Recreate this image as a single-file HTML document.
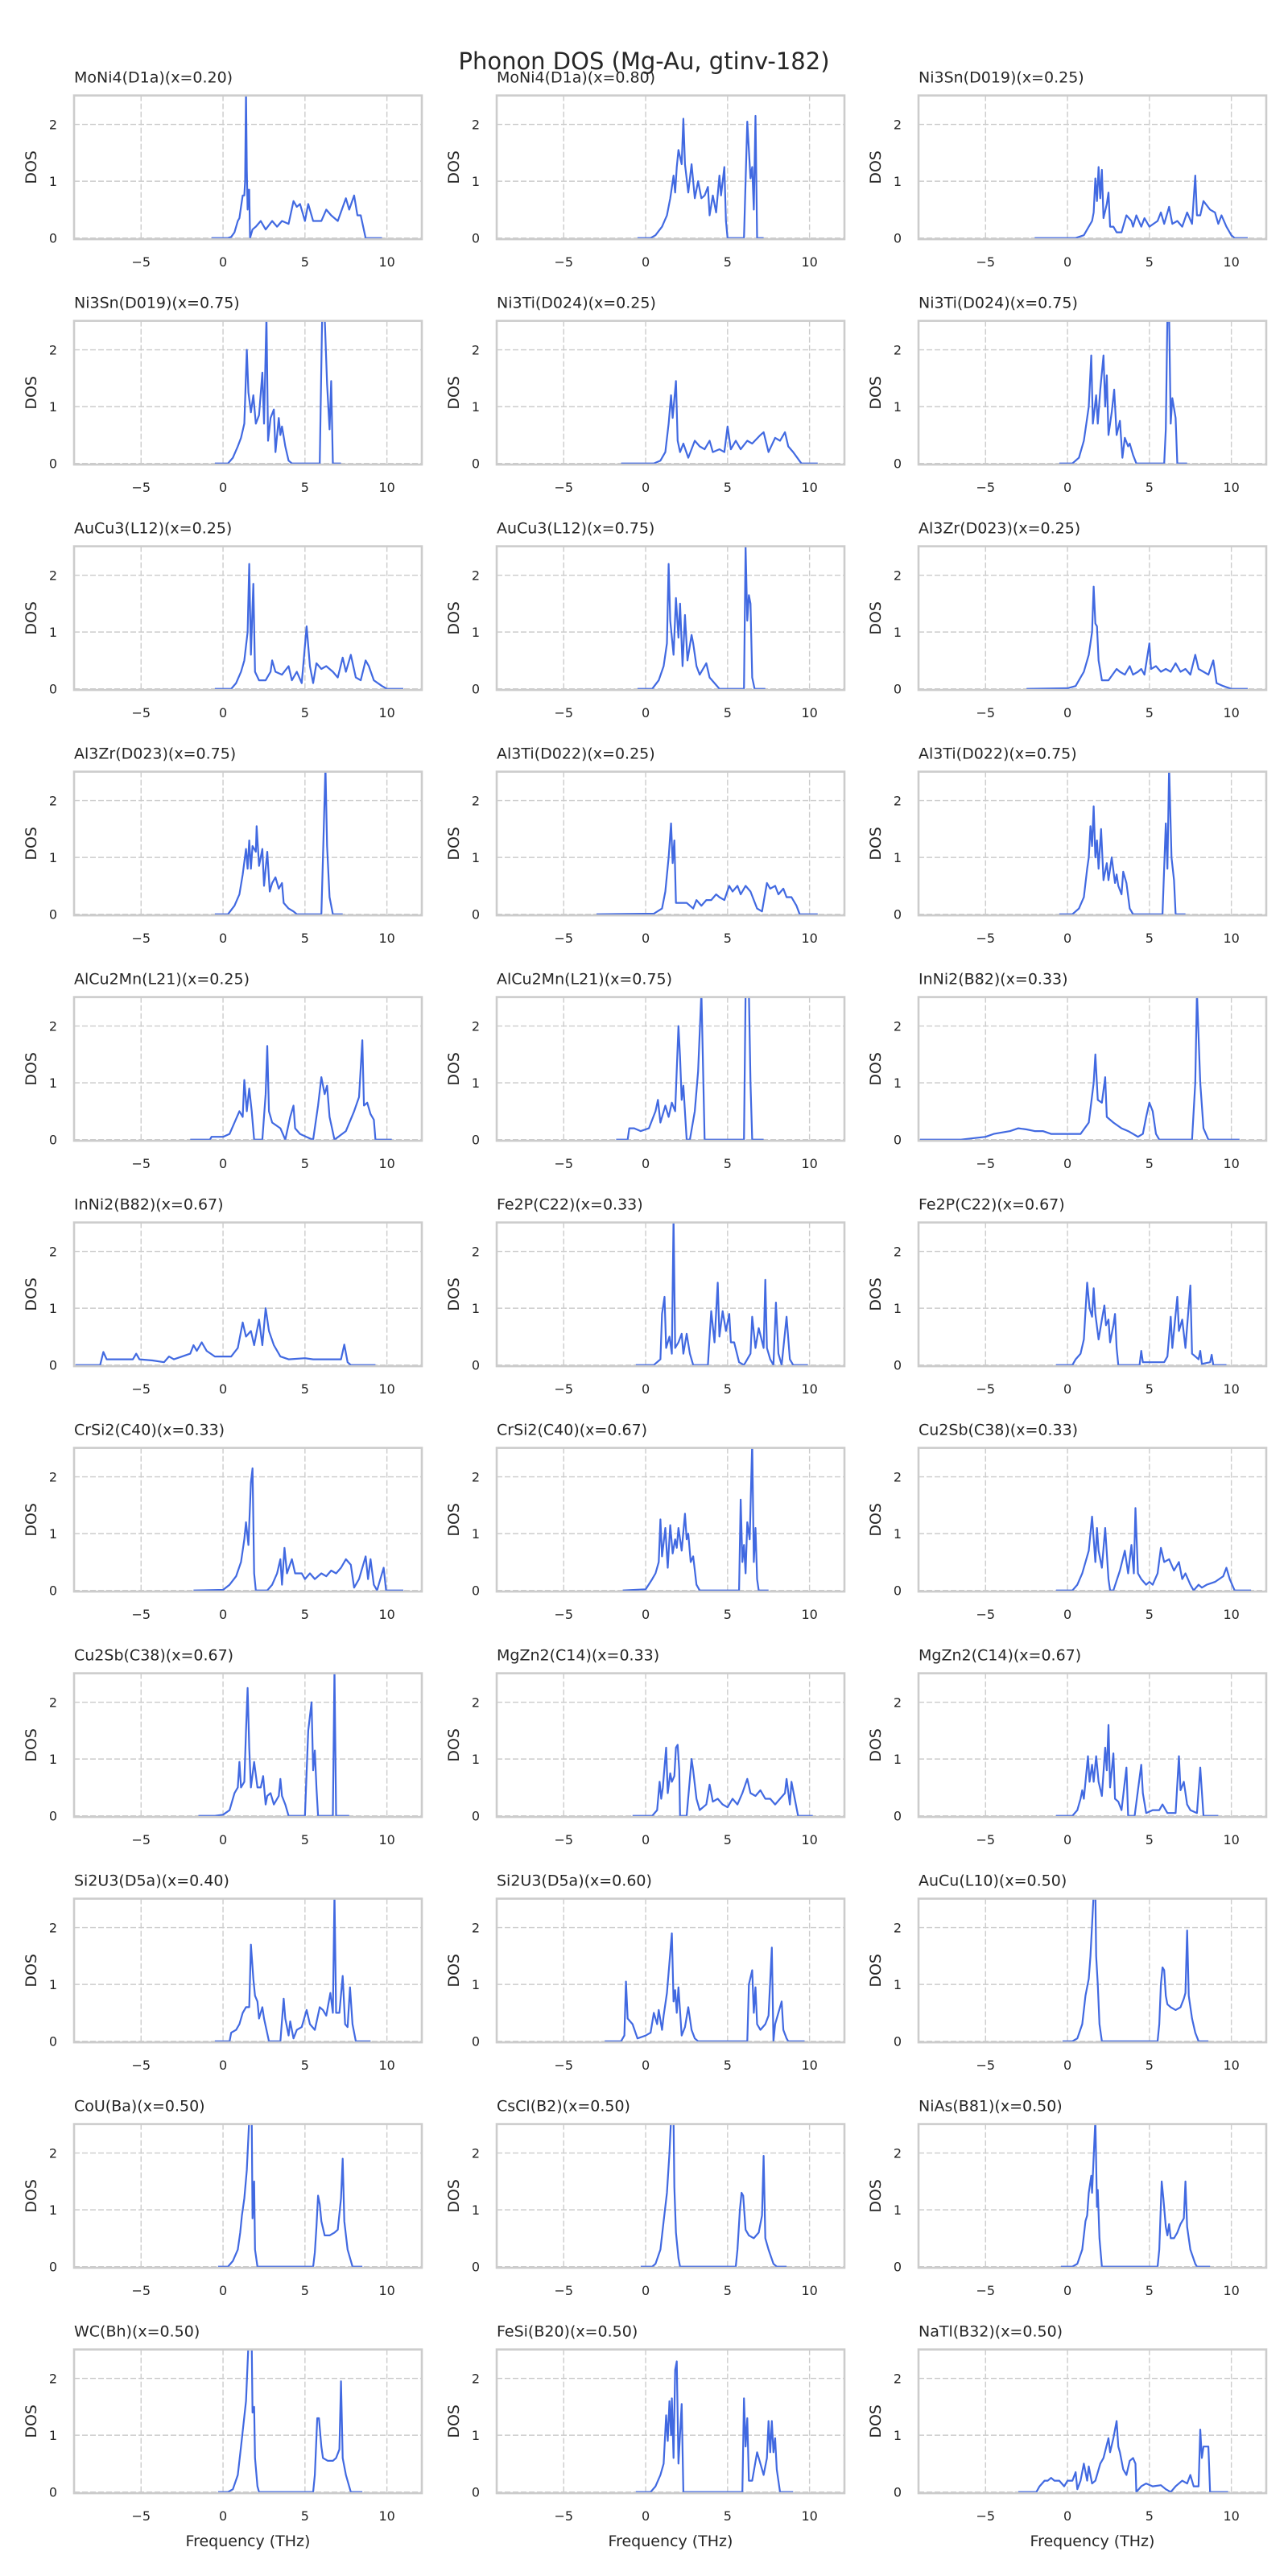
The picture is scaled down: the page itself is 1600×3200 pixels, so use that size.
<!DOCTYPE html>
<html><head><meta charset="utf-8"><title>Phonon DOS</title>
<style>
html,body{margin:0;padding:0;background:#fff;}
svg{display:block;font-family:"DejaVu Sans","Liberation Sans",sans-serif;}
</style></head>
<body>
<svg id="fig" width="1600" height="3200" viewBox="0 0 1600 3200" xmlns="http://www.w3.org/2000/svg">
<rect x="0" y="0" width="1600" height="3200" fill="#fff"/>
<text x="800" y="86" font-size="29" fill="#262626" text-anchor="middle">Phonon DOS (Mg-Au, gtinv-182)</text>
</svg>
<script>
const titles = ["MoNi4(D1a)(x=0.20)","MoNi4(D1a)(x=0.80)","Ni3Sn(D019)(x=0.25)","Ni3Sn(D019)(x=0.75)","Ni3Ti(D024)(x=0.25)","Ni3Ti(D024)(x=0.75)","AuCu3(L12)(x=0.25)","AuCu3(L12)(x=0.75)","Al3Zr(D023)(x=0.25)","Al3Zr(D023)(x=0.75)","Al3Ti(D022)(x=0.25)","Al3Ti(D022)(x=0.75)","AlCu2Mn(L21)(x=0.25)","AlCu2Mn(L21)(x=0.75)","InNi2(B82)(x=0.33)","InNi2(B82)(x=0.67)","Fe2P(C22)(x=0.33)","Fe2P(C22)(x=0.67)","CrSi2(C40)(x=0.33)","CrSi2(C40)(x=0.67)","Cu2Sb(C38)(x=0.33)","Cu2Sb(C38)(x=0.67)","MgZn2(C14)(x=0.33)","MgZn2(C14)(x=0.67)","Si2U3(D5a)(x=0.40)","Si2U3(D5a)(x=0.60)","AuCu(L10)(x=0.50)","CoU(Ba)(x=0.50)","CsCl(B2)(x=0.50)","NiAs(B81)(x=0.50)","WC(Bh)(x=0.50)","FeSi(B20)(x=0.50)","NaTl(B32)(x=0.50)"];
const xTicks = [-5, 0, 5, 10];
const xTickLabels = ["\u22125", "0", "5", "10"];
const yTicks = [0, 1, 2];
const yTickLabels = ["0", "1", "2"];
const xLimits = [-9.09, 12.13];
const yLimits = [-0.02, 2.51];
// [frequency (THz), DOS] pairs per subplot
const dosCurves = [
[[-0.7,0],[0.3,0],[0.5,0.02],[0.7,0.1],[0.9,0.3],[1.0,0.35],[1.1,0.55],[1.2,0.75],[1.3,0.75],[1.35,1.0],[1.4,2.6],[1.45,1.2],[1.5,0.5],[1.55,0.85],[1.6,0.85],[1.65,0],[1.8,0.15],[2.0,0.2],[2.3,0.3],[2.6,0.15],[3.0,0.3],[3.3,0.2],[3.6,0.3],[4.0,0.25],[4.3,0.65],[4.5,0.55],[4.7,0.6],[5.0,0.3],[5.2,0.6],[5.5,0.3],[6.0,0.3],[6.3,0.5],[6.6,0.4],[7.0,0.3],[7.5,0.7],[7.7,0.5],[8.0,0.75],[8.2,0.4],[8.4,0.4],[8.7,0],[9.7,0]],
[[-0.5,0],[0.3,0],[0.6,0.05],[1.0,0.2],[1.3,0.4],[1.5,0.7],[1.7,1.1],[1.8,0.8],[1.9,1.25],[2.0,1.55],[2.2,1.3],[2.3,2.1],[2.4,1.3],[2.6,0.8],[2.8,1.3],[3.0,0.7],[3.2,1.0],[3.4,0.7],[3.6,0.75],[3.8,0.9],[3.9,0.4],[4.1,0.75],[4.3,0.45],[4.5,1.1],[4.6,0.75],[4.8,1.25],[4.9,0.3],[5.0,0],[6.0,0],[6.2,2.05],[6.4,1.05],[6.5,1.25],[6.6,0.5],[6.7,2.15],[6.8,0],[7.2,0]],
[[-2.0,0],[0.5,0],[1.0,0.05],[1.5,0.3],[1.6,0.45],[1.7,1.05],[1.8,0.65],[1.9,1.25],[2.0,0.7],[2.1,1.2],[2.2,0.35],[2.4,0.6],[2.5,0.8],[2.6,0.2],[2.8,0.2],[3.0,0.1],[3.3,0.1],[3.6,0.4],[3.9,0.3],[4.0,0.2],[4.2,0.4],[4.5,0.2],[4.7,0.35],[5.0,0.2],[5.5,0.3],[5.7,0.45],[5.9,0.25],[6.2,0.55],[6.4,0.25],[6.7,0.3],[7.0,0.2],[7.3,0.45],[7.6,0.25],[7.8,1.1],[7.9,0.4],[8.1,0.4],[8.3,0.65],[8.7,0.5],[9.0,0.45],[9.2,0.25],[9.4,0.4],[9.7,0.2],[10.0,0.05],[10.2,0],[11.0,0]],
[[-0.5,0],[0.3,0],[0.6,0.1],[0.9,0.3],[1.1,0.45],[1.3,0.7],[1.45,2.0],[1.55,1.25],[1.7,0.9],[1.85,1.2],[2.0,0.7],[2.2,0.85],[2.4,1.6],[2.5,0.7],[2.65,2.6],[2.75,0.4],[2.9,0.8],[3.1,0.95],[3.2,0.2],[3.4,0.8],[3.5,0.5],[3.6,0.65],[3.8,0.3],[4.0,0.05],[4.2,0],[5.9,0],[6.05,2.6],[6.2,2.6],[6.35,1.4],[6.5,0.6],[6.6,1.45],[6.7,0],[7.2,0]],
[[-1.5,0],[0.5,0],[0.9,0.05],[1.2,0.2],[1.4,0.7],[1.55,1.2],[1.65,0.8],[1.85,1.45],[1.95,0.4],[2.1,0.2],[2.3,0.35],[2.6,0.1],[3.0,0.4],[3.3,0.3],[3.6,0.25],[3.9,0.4],[4.1,0.2],[4.5,0.25],[4.8,0.2],[5.0,0.65],[5.2,0.25],[5.5,0.4],[5.8,0.25],[6.2,0.4],[6.5,0.35],[7.0,0.5],[7.2,0.55],[7.5,0.2],[7.9,0.45],[8.2,0.4],[8.5,0.55],[8.7,0.3],[9.0,0.2],[9.5,0],[10.5,0]],
[[-0.5,0],[0.3,0],[0.7,0.1],[1.0,0.4],[1.2,0.8],[1.3,1.0],[1.45,1.9],[1.55,0.7],[1.75,1.2],[1.85,0.7],[2.0,1.3],[2.2,1.9],[2.3,1.0],[2.4,1.55],[2.5,0.5],[2.7,0.9],[2.85,1.3],[3.0,0.5],[3.2,0.75],[3.35,0.1],[3.5,0.45],[3.7,0.3],[3.8,0.35],[4.0,0.15],[4.2,0],[5.9,0],[6.0,0.6],[6.1,2.6],[6.2,2.6],[6.3,0.7],[6.4,1.15],[6.6,0.8],[6.7,0],[7.3,0]],
[[-0.5,0],[0.5,0],[0.8,0.1],[1.1,0.3],[1.3,0.5],[1.5,1.0],[1.6,2.2],[1.7,0.6],[1.85,1.85],[1.95,0.3],[2.2,0.15],[2.6,0.15],[2.9,0.3],[3.0,0.5],[3.2,0.3],[3.6,0.25],[4.0,0.4],[4.2,0.15],[4.5,0.3],[4.8,0.1],[5.1,1.1],[5.3,0.4],[5.5,0.1],[5.7,0.45],[6.0,0.35],[6.3,0.4],[6.7,0.3],[7.0,0.2],[7.3,0.55],[7.5,0.3],[7.8,0.6],[8.1,0.2],[8.4,0.15],[8.7,0.5],[8.9,0.4],[9.2,0.15],[9.7,0.05],[10.0,0],[11.0,0]],
[[-0.5,0],[0.4,0],[0.8,0.15],[1.1,0.4],[1.3,0.8],[1.4,2.2],[1.5,1.2],[1.7,0.6],[1.85,1.6],[2.0,0.9],[2.1,1.5],[2.25,0.4],[2.4,1.3],[2.55,0.5],[2.8,0.95],[2.9,0.8],[3.1,0.4],[3.3,0.25],[3.7,0.45],[3.9,0.2],[4.2,0.1],[4.5,0],[6.0,0],[6.1,2.5],[6.2,1.2],[6.3,1.65],[6.4,1.5],[6.5,0.2],[6.65,0],[7.3,0]],
[[-2.5,0],[0,0.01],[0.5,0.05],[1.0,0.3],[1.3,0.6],[1.5,1.0],[1.6,1.8],[1.7,1.15],[1.8,1.1],[1.9,0.5],[2.1,0.15],[2.5,0.15],[3.0,0.35],[3.2,0.3],[3.5,0.25],[3.8,0.4],[4.0,0.25],[4.3,0.3],[4.5,0.35],[4.7,0.25],[5.0,0.8],[5.1,0.35],[5.4,0.4],[5.7,0.3],[6.0,0.35],[6.3,0.3],[6.6,0.45],[6.9,0.3],[7.2,0.35],[7.5,0.25],[7.8,0.6],[8.0,0.35],[8.3,0.3],[8.6,0.25],[8.9,0.5],[9.1,0.1],[9.5,0.05],[10.0,0],[11.0,0]],
[[-0.5,0],[0.3,0],[0.7,0.15],[1.0,0.35],[1.2,0.7],[1.4,1.15],[1.5,0.8],[1.6,1.3],[1.7,0.8],[1.8,1.2],[2.0,1.1],[2.05,1.55],[2.2,0.85],[2.4,1.15],[2.5,0.5],[2.7,1.1],[2.85,0.4],[3.0,0.55],[3.2,0.65],[3.4,0.45],[3.6,0.55],[3.7,0.2],[4.0,0.1],[4.3,0.05],[4.5,0],[6.0,0],[6.1,1.0],[6.25,2.6],[6.35,1.2],[6.5,0.3],[6.7,0],[7.3,0]],
[[-3,0],[0.5,0.01],[1.0,0.1],[1.2,0.4],[1.4,1.0],[1.55,1.6],[1.65,0.9],[1.75,1.3],[1.85,0.2],[2.1,0.2],[2.5,0.2],[2.9,0.1],[3.1,0.25],[3.4,0.15],[3.7,0.25],[4.0,0.25],[4.3,0.35],[4.5,0.3],[4.8,0.25],[5.1,0.5],[5.3,0.4],[5.6,0.5],[5.8,0.35],[6.1,0.5],[6.4,0.4],[6.8,0.1],[7.1,0.05],[7.4,0.55],[7.6,0.45],[7.9,0.5],[8.1,0.35],[8.4,0.45],[8.6,0.3],[8.9,0.3],[9.2,0.15],[9.4,0],[10.5,0]],
[[-0.5,0],[0.3,0],[0.7,0.1],[1.0,0.3],[1.2,0.8],[1.3,1.0],[1.4,1.55],[1.5,1.2],[1.6,1.9],[1.7,1.0],[1.8,1.3],[1.9,0.8],[2.05,1.5],[2.2,0.6],[2.4,0.9],[2.5,0.6],[2.7,1.0],[2.9,0.55],[3.0,0.7],[3.1,0.5],[3.3,0.35],[3.4,0.75],[3.6,0.55],[3.8,0.1],[4.0,0],[5.8,0],[6.0,1.6],[6.1,0.8],[6.2,2.6],[6.35,1.0],[6.5,0.6],[6.6,0],[7.2,0]],
[[-2,0],[-0.8,0],[-0.7,0.05],[0,0.05],[0.4,0.1],[0.7,0.3],[1.0,0.5],[1.2,0.4],[1.3,1.05],[1.45,0.5],[1.6,0.9],[1.75,0.5],[1.9,0],[2.4,0],[2.6,0.8],[2.7,1.65],[2.8,0.5],[3.0,0.3],[3.5,0.2],[3.8,0],[4.1,0.4],[4.3,0.6],[4.4,0.2],[4.7,0.1],[5.3,0.02],[5.5,0],[5.8,0.6],[6.0,1.1],[6.2,0.8],[6.35,0.95],[6.5,0.4],[6.8,0],[7.5,0.15],[8.0,0.5],[8.3,0.75],[8.5,1.75],[8.6,0.6],[8.8,0.65],[9.0,0.45],[9.2,0.35],[9.3,0],[10.3,0]],
[[-1.8,0],[-1.1,0],[-1.0,0.2],[-0.7,0.2],[-0.3,0.15],[0.2,0.2],[0.6,0.5],[0.75,0.7],[0.9,0.3],[1.2,0.6],[1.4,0.4],[1.6,0.65],[1.8,0.5],[2.0,2.0],[2.1,1.45],[2.2,0.7],[2.3,0.95],[2.5,0],[2.7,0],[3.0,0.5],[3.2,1.2],[3.4,2.6],[3.6,0],[6.0,0],[6.1,2.6],[6.3,2.6],[6.4,1.0],[6.5,0],[7.2,0]],
[[-9,0],[-6.5,0],[-5,0.05],[-4.5,0.1],[-3.5,0.15],[-3,0.2],[-2.5,0.18],[-2,0.15],[-1.5,0.15],[-1,0.1],[0,0.1],[0.8,0.1],[1.3,0.3],[1.6,1.0],[1.7,1.5],[1.85,0.7],[2.1,0.65],[2.3,1.1],[2.4,0.4],[2.8,0.3],[3.3,0.2],[3.7,0.15],[4.0,0.1],[4.3,0.05],[4.6,0.1],[4.8,0.4],[5.0,0.65],[5.2,0.5],[5.4,0.1],[5.6,0],[7.6,0],[7.8,1.0],[7.9,2.6],[8.1,1.0],[8.3,0.2],[8.6,0],[10.5,0]],
[[-9,0],[-7.5,0],[-7.3,0.23],[-7.1,0.1],[-5.5,0.1],[-5.3,0.2],[-5.1,0.1],[-4.3,0.08],[-3.6,0.05],[-3.3,0.15],[-3.0,0.1],[-2.5,0.15],[-2.0,0.2],[-1.8,0.35],[-1.6,0.25],[-1.3,0.4],[-1.0,0.25],[-0.5,0.15],[0.5,0.15],[0.9,0.3],[1.2,0.75],[1.4,0.5],[1.7,0.6],[1.9,0.35],[2.2,0.8],[2.4,0.35],[2.6,1.0],[2.8,0.6],[3.1,0.35],[3.5,0.15],[4.0,0.1],[5.0,0.12],[5.5,0.1],[7.2,0.1],[7.4,0.36],[7.6,0.05],[7.8,0],[9.3,0]],
[[-0.6,0],[0.5,0],[0.9,0.1],[1.0,0.9],[1.15,1.2],[1.25,0.3],[1.45,0.5],[1.6,0.2],[1.7,2.6],[1.8,0.3],[2.0,0.4],[2.2,0.55],[2.3,0.2],[2.5,0.55],[2.7,0.2],[2.9,0],[3.8,0],[4.0,0.95],[4.2,0.4],[4.4,1.45],[4.5,0.5],[4.7,0.95],[4.9,0.6],[5.1,0.9],[5.2,0.4],[5.4,0.4],[5.7,0.05],[6.0,0],[6.4,0.2],[6.5,0.85],[6.7,0.3],[6.9,0.65],[7.2,0.3],[7.3,1.5],[7.4,0.3],[7.6,0.1],[7.8,0],[7.95,1.1],[8.1,0.2],[8.3,0],[8.6,0.85],[8.8,0.1],[9.0,0],[9.9,0]],
[[-0.7,0],[0.3,0],[0.5,0.1],[0.8,0.2],[1.0,0.45],[1.2,1.45],[1.35,1.0],[1.5,0.85],[1.6,1.35],[1.7,0.9],[1.9,0.45],[2.1,0.8],[2.25,1.05],[2.35,0.7],[2.5,0.8],[2.6,0.4],[2.8,0.7],[2.9,0.9],[3.0,0.3],[3.1,0],[4.4,0],[4.5,0.25],[4.6,0.05],[5.5,0.05],[5.9,0.05],[6.1,0.15],[6.3,0.85],[6.4,0.3],[6.7,1.2],[6.8,0.6],[7.0,0.8],[7.2,0.3],[7.5,1.4],[7.6,0.2],[8.0,0.1],[8.1,0.25],[8.2,0.02],[8.7,0.05],[8.8,0.18],[8.9,0],[9.7,0]],
[[-1.8,0],[0,0.01],[0.4,0.1],[0.8,0.25],[1.1,0.5],[1.3,0.9],[1.4,1.2],[1.55,0.8],[1.7,1.9],[1.8,2.15],[1.9,0.3],[2.0,0],[2.7,0],[3.0,0.1],[3.3,0.3],[3.5,0.55],[3.6,0.1],[3.75,0.75],[3.9,0.3],[4.2,0.55],[4.4,0.3],[4.8,0.3],[5.0,0.2],[5.3,0.3],[5.6,0.2],[6.0,0.3],[6.3,0.25],[6.6,0.35],[6.9,0.3],[7.2,0.4],[7.5,0.55],[7.8,0.45],[8.0,0.05],[8.3,0.2],[8.5,0.4],[8.7,0.6],[8.85,0.2],[9.0,0.55],[9.2,0.1],[9.4,0],[9.6,0.2],[9.8,0.4],[9.95,0],[11.0,0]],
[[-1.4,0],[0,0.02],[0.4,0.2],[0.6,0.3],[0.8,0.5],[0.9,1.25],[1.0,0.6],[1.2,1.1],[1.35,0.4],[1.5,1.15],[1.65,0.65],[1.8,0.9],[1.9,0.75],[2.0,1.1],[2.2,0.7],[2.4,1.35],[2.5,0.9],[2.6,1.0],[2.75,0.5],[2.9,0.6],[3.1,0.1],[3.3,0],[5.7,0],[5.8,1.6],[5.9,0.5],[6.0,0.8],[6.1,0.3],[6.2,1.2],[6.35,0.9],[6.5,2.6],[6.6,0.5],[6.7,1.1],[6.8,0.2],[6.9,0],[7.5,0]],
[[-0.7,0],[0.3,0],[0.6,0.1],[0.9,0.3],[1.3,0.7],[1.5,1.3],[1.7,0.5],[1.8,1.1],[1.9,0.7],[2.1,0.4],[2.3,1.1],[2.5,0.2],[2.6,0],[2.8,0],[3.2,0.35],[3.5,0.7],[3.7,0.3],[3.9,0.8],[4.05,0.3],[4.15,1.45],[4.3,0.3],[4.5,0.2],[4.8,0.1],[5.0,0.15],[5.2,0.1],[5.5,0.3],[5.7,0.75],[5.9,0.5],[6.2,0.55],[6.5,0.35],[6.8,0.5],[7.0,0.2],[7.2,0.3],[7.5,0.1],[7.7,0],[8.0,0.1],[8.2,0.05],[8.5,0.1],[9.0,0.15],[9.5,0.25],[9.7,0.4],[9.9,0.2],[10.2,0],[11.2,0]],
[[-1.5,0],[-0.5,0],[0,0.02],[0.4,0.1],[0.7,0.4],[0.9,0.5],[1.0,0.95],[1.1,0.5],[1.3,0.6],[1.4,1.5],[1.5,2.25],[1.6,1.2],[1.7,0.5],[1.9,0.95],[2.1,0.5],[2.3,0.5],[2.45,0.7],[2.6,0.2],[2.7,0.35],[2.9,0.4],[3.1,0.2],[3.4,0.35],[3.5,0.65],[3.6,0.35],[3.8,0.2],[4.0,0],[5.0,0],[5.2,1.5],[5.4,2.0],[5.5,0.8],[5.6,1.15],[5.7,0.5],[5.8,0],[6.7,0],[6.8,2.6],[6.9,0],[7.7,0]],
[[-0.8,0],[0.4,0],[0.7,0.1],[0.85,0.6],[0.95,0.3],[1.05,0.5],[1.25,1.2],[1.35,0.4],[1.5,0.75],[1.6,0.6],[1.75,0.7],[1.85,1.2],[1.95,1.25],[2.05,0.8],[2.1,0],[2.5,0],[2.8,1.0],[2.9,0.8],[3.1,0.3],[3.3,0.1],[3.7,0.2],[3.9,0.55],[4.1,0.25],[4.4,0.3],[4.7,0.2],[5.0,0.15],[5.3,0.3],[5.6,0.2],[5.9,0.4],[6.2,0.65],[6.4,0.4],[6.7,0.35],[7.0,0.45],[7.3,0.3],[7.6,0.3],[7.9,0.2],[8.2,0.3],[8.5,0.4],[8.6,0.65],[8.8,0.2],[8.9,0.6],[9.1,0.3],[9.3,0],[10.2,0]],
[[-0.7,0],[0.3,0],[0.6,0.1],[0.8,0.3],[0.9,0.45],[1.0,0.3],[1.25,1.05],[1.35,0.6],[1.5,0.9],[1.6,0.6],[1.75,1.05],[1.9,0.6],[2.1,0.35],[2.3,1.2],[2.4,0.8],[2.5,1.6],[2.6,0.5],[2.8,1.1],[2.9,0.3],[3.1,0.25],[3.3,0.1],[3.6,0.85],[3.7,0],[4.1,0],[4.5,0.9],[4.6,0.4],[4.8,0.05],[5.2,0.1],[5.6,0.1],[5.8,0.2],[6.1,0.05],[6.6,0.05],[6.8,1.05],[6.9,0.45],[7.1,0.6],[7.3,0.2],[7.5,0.1],[7.9,0.05],[8.1,0.85],[8.3,0],[9.2,0]],
[[-0.5,0],[0.4,0],[0.5,0.15],[0.8,0.2],[1.0,0.3],[1.2,0.5],[1.4,0.6],[1.6,0.6],[1.7,1.7],[1.85,1.1],[1.95,0.8],[2.1,0.7],[2.2,0.4],[2.4,0.6],[2.5,0.4],[2.8,0],[3.5,0],[3.7,0.75],[3.8,0.4],[4.0,0.1],[4.1,0.35],[4.3,0.05],[4.5,0.2],[4.8,0.25],[5.1,0.55],[5.3,0.3],[5.6,0.2],[5.9,0.6],[6.1,0.55],[6.3,0.45],[6.55,0.85],[6.7,0.5],[6.8,2.6],[6.9,0.5],[7.1,0.5],[7.3,1.15],[7.45,0.3],[7.6,0.25],[7.75,0.95],[7.9,0.3],[8.1,0],[9.0,0]],
[[-2.5,0],[-1.5,0],[-1.3,0.1],[-1.2,1.05],[-1.1,0.4],[-0.8,0.3],[-0.5,0.05],[0,0.1],[0.3,0.15],[0.5,0.5],[0.7,0.3],[0.8,0.55],[1.0,0.2],[1.1,0.45],[1.3,0.85],[1.6,1.9],[1.7,0.7],[1.8,0.9],[1.9,0.5],[2.0,0.95],[2.2,0.1],[2.4,0.25],[2.6,0.6],[2.8,0.2],[3.0,0.05],[3.2,0],[6.2,0],[6.3,1.0],[6.5,1.25],[6.6,0.5],[6.7,0.95],[6.8,0.3],[7.0,0.2],[7.3,0.3],[7.5,0.45],[7.7,1.65],[7.8,0],[7.9,0.3],[8.3,0.7],[8.4,0.2],[8.6,0.05],[8.7,0],[9.7,0]],
[[-0.3,0],[0.3,0],[0.6,0.05],[0.9,0.3],[1.1,0.8],[1.3,1.1],[1.4,1.5],[1.6,2.6],[1.7,2.6],[1.75,1.5],[1.85,1.0],[1.95,0.3],[2.1,0],[5.5,0],[5.6,0.3],[5.7,1.0],[5.8,1.3],[5.9,1.25],[6.0,0.8],[6.1,0.65],[6.3,0.6],[6.6,0.55],[6.9,0.6],[7.1,0.75],[7.2,0.85],[7.3,1.95],[7.4,0.8],[7.6,0.4],[7.8,0.15],[8.0,0],[8.6,0]],
[[-0.3,0],[0.3,0],[0.6,0.1],[0.9,0.3],[1.05,0.6],[1.15,0.9],[1.3,1.2],[1.45,1.7],[1.6,2.6],[1.75,2.6],[1.8,0.85],[1.9,1.5],[1.95,0.3],[2.1,0],[5.5,0],[5.6,0.25],[5.7,0.7],[5.8,1.25],[5.9,1.1],[6.0,0.8],[6.2,0.55],[6.5,0.55],[6.8,0.6],[7.0,0.65],[7.2,1.2],[7.3,1.9],[7.4,0.8],[7.6,0.3],[7.9,0],[8.5,0]],
[[-0.3,0],[0.4,0],[0.6,0.05],[0.9,0.3],[1.1,0.8],[1.3,1.3],[1.45,2.0],[1.55,2.6],[1.7,2.6],[1.75,1.4],[1.85,0.6],[2.0,0.15],[2.1,0],[5.5,0],[5.6,0.3],[5.75,1.0],[5.85,1.3],[5.95,1.25],[6.1,0.65],[6.3,0.55],[6.6,0.5],[6.9,0.6],[7.1,0.9],[7.2,1.95],[7.3,0.5],[7.5,0.3],[7.8,0.05],[8.0,0],[8.6,0]],
[[-0.4,0],[0.3,0],[0.6,0.05],[0.9,0.3],[1.1,0.8],[1.2,0.9],[1.3,1.3],[1.45,1.6],[1.5,1.3],[1.7,2.6],[1.8,1.05],[1.85,1.35],[1.95,0.5],[2.1,0],[5.5,0],[5.6,0.3],[5.75,1.5],[5.85,1.2],[6.0,0.7],[6.1,0.55],[6.2,0.75],[6.3,0.5],[6.5,0.5],[6.7,0.6],[6.9,0.75],[7.1,0.85],[7.2,1.5],[7.3,0.7],[7.5,0.3],[7.8,0.05],[7.9,0],[8.7,0]],
[[-0.3,0],[0.3,0],[0.6,0.05],[0.9,0.3],[1.1,0.8],[1.25,1.2],[1.4,1.6],[1.55,2.6],[1.75,2.6],[1.8,1.4],[1.9,1.5],[1.95,0.6],[2.1,0.1],[2.2,0],[5.5,0],[5.6,0.3],[5.75,1.3],[5.85,1.3],[6.0,0.8],[6.1,0.6],[6.4,0.55],[6.7,0.55],[6.9,0.6],[7.1,0.75],[7.2,1.95],[7.3,0.6],[7.5,0.3],[7.8,0],[8.5,0]],
[[-0.6,0],[0.3,0],[0.6,0.1],[0.9,0.3],[1.1,0.5],[1.25,1.35],[1.35,0.9],[1.45,1.6],[1.55,1.0],[1.6,1.65],[1.7,0.6],[1.8,2.15],[1.9,2.3],[2.0,0.5],[2.2,1.55],[2.3,0],[5.9,0],[6.0,1.65],[6.1,0.8],[6.2,1.3],[6.3,0.2],[6.5,0.2],[6.8,0.7],[7.0,0.5],[7.2,0.3],[7.4,0.6],[7.5,1.25],[7.6,0.7],[7.7,1.25],[7.8,0.7],[7.9,0.95],[8.0,0.4],[8.2,0],[9.0,0]],
[[-3,0],[-1.9,0],[-1.7,0.1],[-1.4,0.2],[-1.2,0.2],[-1.0,0.25],[-0.8,0.2],[-0.5,0.2],[-0.2,0.1],[0,0.2],[0.3,0.2],[0.5,0.35],[0.6,0.05],[0.8,0.2],[1.0,0.5],[1.2,0.2],[1.3,0.45],[1.5,0.15],[1.7,0.2],[2.0,0.5],[2.2,0.6],[2.5,0.95],[2.6,0.7],[2.8,0.95],[3.0,1.25],[3.1,0.8],[3.2,0.7],[3.4,0.4],[3.6,0.3],[3.8,0.55],[4.0,0.6],[4.15,0.5],[4.2,0],[4.5,0.1],[4.8,0.15],[5.2,0.1],[5.7,0.12],[6.0,0.05],[6.3,0],[6.6,0.1],[7.0,0.2],[7.3,0.15],[7.5,0.3],[7.7,0.1],[8.0,0.1],[8.1,1.1],[8.2,0.6],[8.3,0.8],[8.6,0.8],[8.7,0],[9.8,0]]
];

(function(){
  const NS = "http://www.w3.org/2000/svg";
  const svg = document.getElementById('fig');
  const colLeft = [92, 617, 1141];
  const axW = 432;
  const rowTop0 = 118.6, rowPitch = 280, axH = 178.5;
  function mk(tag, attrs, parent){
    const e = document.createElementNS(NS, tag);
    for (const k in attrs) e.setAttribute(k, attrs[k]);
    (parent || svg).appendChild(e);
    return e;
  }
  const defs = mk('defs', {});
  titles.forEach((title, i) => {
    const c = i % 3, r = Math.floor(i / 3);
    const L = colLeft[c], R = L + axW, T = rowTop0 + r * rowPitch, B = T + axH;
    const xs = v => L + (v - xLimits[0]) / (xLimits[1] - xLimits[0]) * (R - L);
    const ys = v => B - (v - yLimits[0]) / (yLimits[1] - yLimits[0]) * axH;
    const g = mk('g', {});
    
    
    const cp = mk('clipPath', {id: 'clip' + i}, defs);
    mk('rect', {x: L, y: T, width: R - L, height: axH}, cp);
    xTicks.forEach((t) => {
      const ln = mk('line', {x1: xs(t), x2: xs(t), y1: T, y2: B, stroke: '#cccccc', 'stroke-width': 1.4, 'stroke-dasharray': '7,3'}, g);
      
      
    });
    yTicks.forEach((t) => {
      const ln = mk('line', {x1: L, x2: R, y1: ys(t), y2: ys(t), stroke: '#cccccc', 'stroke-width': 1.4, 'stroke-dasharray': '7,3'}, g);
      
      
    });
    const pts = dosCurves[i].map(p => xs(p[0]).toFixed(1) + ',' + ys(p[1]).toFixed(1)).join(' ');
    const pl = mk('polyline', {points: pts, fill: 'none', stroke: '#4169e1', 'stroke-width': 2.2, 'stroke-linejoin': 'round', 'clip-path': 'url(#clip' + i + ')'}, g);
    
    
    const fr = mk('rect', {x: L, y: T, width: R - L, height: axH, fill: 'none', stroke: '#cccccc', 'stroke-width': 2.6}, g);
    
    
    xTicks.forEach((t, k) => {
      const tx = mk('text', {x: xs(t), y: B + 34, 'font-size': 16, fill: '#262626', 'text-anchor': 'middle'}, g);
      tx.textContent = xTickLabels[k];
      
      
    });
    yTicks.forEach((t, k) => {
      const tx = mk('text', {x: L - 21, y: ys(t) + 6, 'font-size': 16, fill: '#262626', 'text-anchor': 'end'}, g);
      tx.textContent = yTickLabels[k];
      
      
    });
    const tt = mk('text', {x: L, y: T - 16, 'font-size': 19, fill: '#262626'}, g);
    tt.textContent = title;
    
    
    const cy = (T + B) / 2, cx = L - 53;
    const yl = mk('text', {x: cx, y: cy, 'font-size': 19, fill: '#262626', 'text-anchor': 'middle', 'dominant-baseline': 'central', transform: 'rotate(-90 ' + cx + ' ' + cy + ')'}, g);
    yl.textContent = 'DOS';
    
    
    if (r === 10) {
      const xlb = mk('text', {x: (L + R) / 2, y: B + 66, 'font-size': 19, fill: '#262626', 'text-anchor': 'middle'}, g);
      xlb.textContent = 'Frequency (THz)';
      
      
    }
  });
})();
</script>
</body></html>
